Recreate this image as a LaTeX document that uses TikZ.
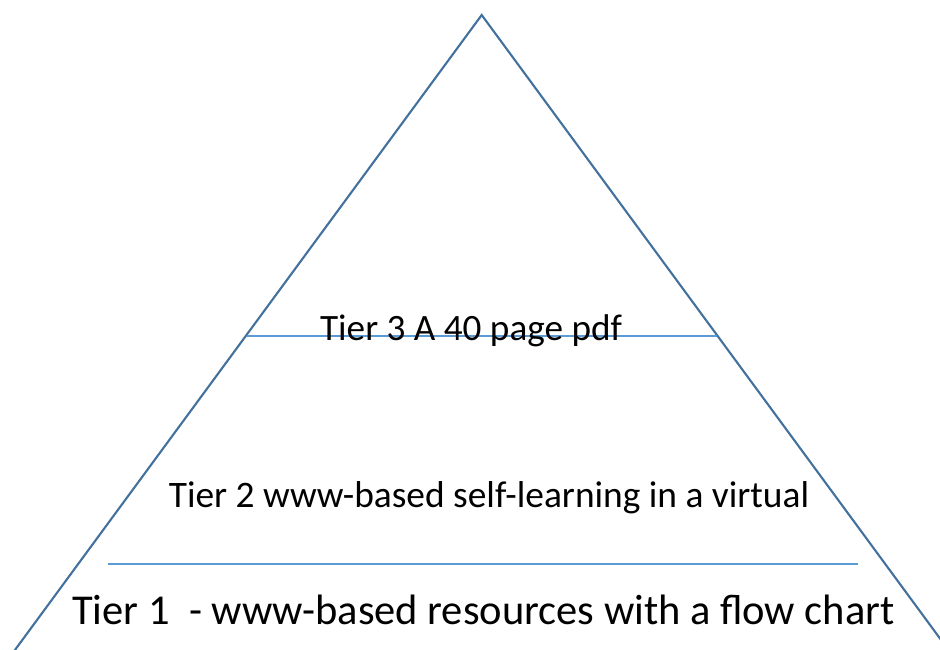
\documentclass[tikz,border=0pt]{standalone}
\usepackage{fontspec}
\setmainfont{Carlito}
\definecolor{triblue}{HTML}{41719C}
\definecolor{lineblue}{HTML}{5B9BD5}
\begin{document}
\begin{tikzpicture}[x=1pt,y=-1pt,
  tri/.style={draw=triblue,line width=2.1pt,line join=miter},
  sep/.style={draw=lineblue,line width=2pt},
  lbl/.style={anchor=base,inner sep=0pt,text=black}]
\useasboundingbox (0,0) rectangle (940,650);
\clip (0,0) rectangle (940,650);
\coordinate (apex) at (481.7,15);
\coordinate (bl) at (-21.8,700);
\coordinate (br) at (985.2,700);
\draw[tri] (bl) -- (apex) -- (br);
\coordinate (s1l) at (247,336);
\coordinate (s1r) at (716.5,336);
\coordinate (s2l) at (108,564);
\coordinate (s2r) at (858,564);
\draw[sep] (s1l) -- (s1r);
\draw[sep] (s2l) -- (s2r);
\node[lbl,font=\fontsize{37.2}{44}\selectfont] (t3) at (471,340) {Tier 3 A 40 page pdf};
\node[lbl,font=\fontsize{37.4}{44}\selectfont] (t2) at (489,507) {Tier 2 www-based self-learning in a virtual};
\node[lbl,font=\fontsize{42.5}{50}\selectfont] (t1) at (483.5,624) {Tier 1\ \ - www-based resources with a flow chart};
\end{tikzpicture}
\end{document}
